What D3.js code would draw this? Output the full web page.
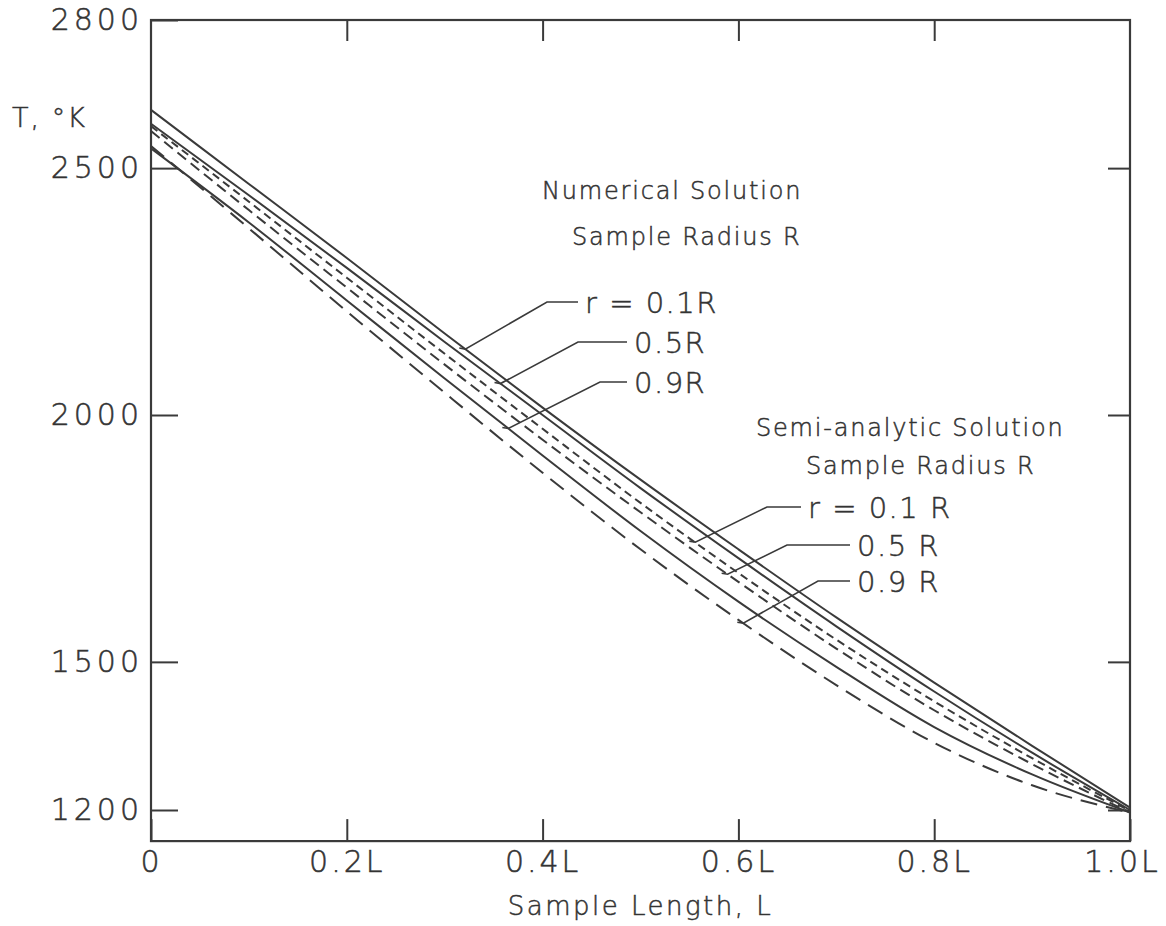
<!DOCTYPE html>
<html>
<head>
<meta charset="utf-8">
<script src="https://cdn.jsdelivr.net/npm/d3@7"></script>
<style>
  body { margin: 0; background: #fff; }
  text { font-family: "DejaVu Sans", sans-serif; font-weight: 200; fill: #333; stroke: #333; stroke-width: 0.5px; }
</style>
</head>
<body>
<div id="container"></div>
<script>
var width = 1166,
    height = 926;

// sample position along length (fraction of L)
var xs = [0, 0.1, 0.2, 0.3, 0.4, 0.5, 0.6, 0.7, 0.8, 0.9, 1.0];

// numerical solution, T in K
var num01 = [2618, 2468, 2318, 2165, 2015, 1869, 1728, 1590, 1458, 1330, 1205];
var num05 = [2590, 2445, 2298, 2148, 2000, 1852, 1710, 1572, 1440, 1316, 1200];
var num09 = [2540, 2390, 2232, 2074, 1918, 1765, 1622, 1490, 1368, 1272, 1195];

// semi-analytic solution, T in K
var semi01 = [2585, 2432, 2278, 2124, 1972, 1822, 1680, 1545, 1420, 1305, 1198];
var semi05 = [2575, 2415, 2258, 2102, 1950, 1803, 1662, 1527, 1402, 1293, 1195];
var semi09 = [2545, 2378, 2210, 2045, 1883, 1728, 1585, 1453, 1336, 1250, 1195];

var yTicks = [1200, 1500, 2000, 2500, 2800];
var xTicks = [0, 0.2, 0.4, 0.6, 0.8, 1.0];
var radiusLabels = ["r = 0.1R", "0.5R", "0.9R"];
var semiLabels = ["r = 0.1 R", "0.5 R", "0.9 R"];

var svg = d3.select("#container").append("svg")
    .attr("width", width)
    .attr("height", height);

var x = d3.scaleLinear().domain([0, 1]).range([151, 1130]);
var y = d3.scaleLinear().domain([1200, 2800]).range([810, 20]);
var yBottom = y(1137);

var ink = "#3a3a3a";

// frame
svg.append("rect")
    .attr("x", x(0)).attr("y", y(2800))
    .attr("width", x(1) - x(0)).attr("height", yBottom - y(2800))
    .attr("fill", "none").attr("stroke", ink).attr("stroke-width", 2.2);

function styleAxis(g) {
    g.select(".domain").remove();
    g.selectAll("line").attr("stroke", ink).attr("stroke-width", 2);
    g.selectAll("text").attr("font-size", 30).attr("letter-spacing", 4)
        .attr("fill", "#333");
}

var fmtX = d => d == 0 ? "0" : d.toFixed(1) + "L";

svg.append("g")
    .attr("transform", "translate(" + x(0) + ",0)")
    .call(d3.axisLeft(y).tickValues(yTicks).tickSize(-27).tickPadding(8).tickFormat(d3.format("d")))
    .call(styleAxis);

svg.append("g")
    .attr("transform", "translate(" + x(1) + ",0)")
    .call(d3.axisRight(y).tickValues(yTicks.slice(0, 4)).tickSize(-22).tickFormat(""))
    .call(styleAxis);

var xAxis = svg.append("g")
    .attr("transform", "translate(0," + yBottom + ")")
    .call(d3.axisBottom(x).tickValues(xTicks).tickSize(-22).tickPadding(10).tickFormat(fmtX))
    .call(styleAxis);
xAxis.selectAll("text").attr("letter-spacing", 3);
xAxis.selectAll("text").filter(d => d == 1).attr("dx", -8);

svg.append("g")
    .attr("transform", "translate(0," + y(2800) + ")")
    .call(d3.axisTop(x).tickValues(xTicks.slice(1, 5)).tickSize(-21).tickFormat(""))
    .call(styleAxis);

// axis titles
svg.append("text")
    .attr("x", 12).attr("y", 127)
    .attr("font-size", 27).attr("letter-spacing", 2)
    .text("T, °K");

svg.append("text")
    .attr("x", (x(0) + x(1)) / 2).attr("y", 915)
    .attr("text-anchor", "middle")
    .attr("font-size", 26).attr("letter-spacing", 2.5)
    .text("Sample Length, L");

// curves
var line = d3.line()
    .x((d, i) => x(xs[i]))
    .y(d => y(d))
    .curve(d3.curveMonotoneX);

var curves = [
    { v: num01, dash: null },
    { v: num05, dash: null },
    { v: num09, dash: null },
    { v: semi01, dash: "8,5" },
    { v: semi05, dash: "11,6" },
    { v: semi09, dash: "17,9" }
];

svg.selectAll(".curve")
    .data(curves)
    .enter().append("path")
    .attr("class", "curve")
    .attr("d", d => line(d.v))
    .attr("fill", "none")
    .attr("stroke", ink)
    .attr("stroke-width", 2)
    .attr("stroke-dasharray", d => d.dash);

// value of a curve at fraction t
function at(vals, t) {
    return d3.scaleLinear().domain(xs).range(vals)(t);
}

// annotations
function block(title, sub, labels, tx, ty, subx, subdy, rows, leaders) {
    svg.append("text").attr("x", tx).attr("y", ty)
        .attr("font-size", 24).attr("letter-spacing", 1.8).text(title);
    svg.append("text").attr("x", subx).attr("y", ty + subdy)
        .attr("font-size", 24).attr("letter-spacing", 1.8).text(sub);
    rows.forEach((r, i) => {
        svg.append("text").attr("x", r.tx).attr("y", r.cy + 11)
            .attr("font-size", 29).attr("letter-spacing", 1.5).text(labels[i]);
        let l = leaders[i];
        let tipx = x(l.t), tipy = y(at(l.curve, l.t));
        svg.append("path")
            .attr("d", d3.line()([[r.tx - 7, r.cy], [l.elbow, r.cy], [tipx, tipy], [tipx - 6, tipy - 1]]))
            .attr("fill", "none").attr("stroke", ink).attr("stroke-width", 1.6);
    });
}

block("Numerical Solution", "Sample Radius R", radiusLabels, 542, 199, 572, 46,
    [{ tx: 585, cy: 302 }, { tx: 634, cy: 342 }, { tx: 634, cy: 382 }],
    [{ t: 0.321, curve: num01, elbow: 547 }, { t: 0.357, curve: num05, elbow: 578 }, { t: 0.365, curve: num09, elbow: 600 }]);

block("Semi-analytic Solution", "Sample Radius R", semiLabels, 756, 436, 806, 38,
    [{ tx: 808, cy: 507 }, { tx: 857, cy: 545 }, { tx: 857, cy: 581 }],
    [{ t: 0.556, curve: semi01, elbow: 767 }, { t: 0.589, curve: semi05, elbow: 787 }, { t: 0.605, curve: semi09, elbow: 818 }]);
</script>
</body>
</html>
